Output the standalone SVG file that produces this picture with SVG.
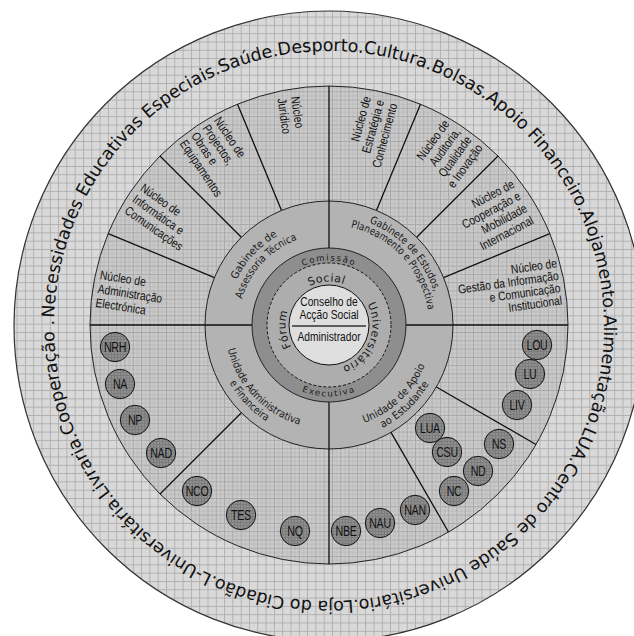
<svg xmlns="http://www.w3.org/2000/svg" width="634" height="636" viewBox="0 0 634 636">
<defs>
<style>
.nt{font-family:'Liberation Sans',Arial,sans-serif;font-size:12.5px;fill:#111}
.ct{font-family:'Liberation Sans',Arial,sans-serif;font-size:14px;fill:#111;text-anchor:middle;letter-spacing:-0.4px}
.gt{font-family:'DejaVu Sans',Verdana,sans-serif;font-size:10.5px;fill:#1a1a1a}
.ot{font-family:'DejaVu Sans',Verdana,sans-serif;font-size:17.5px;fill:#111}
.ft{font-family:'DejaVu Sans',Verdana,sans-serif;font-size:11px;letter-spacing:0.5px;fill:#1a1a1a}
.kt{font-family:'DejaVu Sans',Verdana,sans-serif;font-size:8.5px;letter-spacing:1.6px;fill:#1a1a1a}
.dv{stroke:#111;stroke-width:1.3;fill:none}
.ring{stroke:#222;stroke-width:1}
.nc{fill:url(#gC);stroke:#111;stroke-width:1}
</style>
<pattern id="gO" width="8.3" height="8.3" patternUnits="userSpaceOnUse"><rect width="8.3" height="8.3" fill="#d9d9d9"/><path d="M0 0.5H8.3M0.5 0V8.3" stroke="#adadad" stroke-width="0.9"/></pattern>
<pattern id="gN" width="8.3" height="8.3" patternUnits="userSpaceOnUse"><rect width="8.3" height="8.3" fill="#cacaca"/><path d="M0 4.6H8.3M4.6 0V8.3" stroke="#bababa" stroke-width="0.8"/><path d="M0 0.5H8.3M0.5 0V8.3" stroke="#a6a6a6" stroke-width="0.9"/></pattern>
<pattern id="gC" width="3" height="3" patternUnits="userSpaceOnUse"><rect width="3" height="3" fill="#8f8f8f"/><path d="M0 0.5H3M0.5 0V3" stroke="#7c7c7c" stroke-width="1"/></pattern>
<path id="pOuter" d="M54.12,317.84 A275,275 0 1 1 603.88,334.16 A275,275 0 1 1 54.12,317.84"/>
<path id="pGA1" d="M246.74,386.99 A103,103 0 0 1 385.09,238.61"/>
<path id="pGA2" d="M256.33,379.76 A91,91 0 0 1 378.56,248.68"/>
<path id="pGE1" d="M269.09,232.74 A110,110 0 0 1 416.85,391.2"/>
<path id="pGE2" d="M274.54,241.13 A100,100 0 0 1 408.86,385.18"/>
<path id="pUA1" d="M245.39,263.14 A104,104 0 0 0 386.4,411.73"/>
<path id="pUA2" d="M236.55,256.6 A115,115 0 0 0 392.47,420.9"/>
<path id="pUE1" d="M267.14,408.61 A104,104 0 0 0 415.73,267.6"/>
<path id="pUE2" d="M260,418.25 A116,116 0 0 0 425.73,260.98"/>
<path id="pCom" d="M265.48,313.8 A64.5,64.5 0 0 1 392.52,313.8"/>
<path id="pExe" d="M258.59,337.42 A71.5,71.5 0 0 0 399.41,337.42"/>
<path id="pF1" d="M325.59,368.37 A43.5,43.5 0 0 1 317.38,283.08"/>
<path id="pF2" d="M285.83,319.7 A43.5,43.5 0 0 1 371.39,315.21"/>
<path id="pF3" d="M352.05,288.11 A43.5,43.5 0 0 1 319.96,367.55"/>
</defs>
<rect width="634" height="636" fill="#fff"/>

<g id="outer-ring">
<circle cx="329" cy="326" r="315" fill="url(#gO)" stroke="#333" stroke-width="1.2"/>
<text class="ot"><textPath href="#pOuter" textLength="843" lengthAdjust="spacing">Necessidades Educativas Especiais.Saúde.Desporto.Cultura.Bolsas.Apoio Financeiro.Alojamento.</textPath></text>
<text class="ot"><textPath href="#pOuter" startOffset="844" textLength="881" lengthAdjust="spacing">Alimentação.LUA.Centro de Saúde Universitário.Loja do Cidadão.L-Universitária.Livraria.Cooperação .</textPath></text>
</g>

<g id="nucleos-ring">
<circle cx="329" cy="325" r="239" fill="url(#gN)" class="ring"/>
</g>
<g id="gabinetes-ring">
<circle cx="329" cy="325" r="124" fill="#b3b3b3" class="ring"/>
</g>
<g id="comissao-executiva">
<circle cx="329" cy="325" r="77" fill="#8e8e8e" class="ring"/>
</g>
<g id="forum">
<circle cx="329" cy="325" r="62" fill="#adadad" stroke="#111" stroke-width="1" stroke-dasharray="3 2"/>
</g>

<g id="connectors">
<path class="dv" d="M90,325H252M406,325H568M329,86V248M329,402V564"/>
<path class="dv" d="M214.44,277.55L108.19,233.53M241.32,237.32L160,156M281.55,210.44L237.53,104.19M376.45,210.44L420.47,104.19M416.68,237.32L498,156M443.56,277.55L549.81,233.53M241.32,412.68L160,494M436.38,387L535.97,444.5M391,432.38L448.5,531.97"/>
</g>

<g id="conselho">
<circle cx="329" cy="325" r="40" fill="#dedede" stroke="#111" stroke-width="1"/>
<line x1="292" y1="326" x2="366" y2="326" stroke="#333" stroke-width="1.3"/>
<g transform="translate(329,0) scale(0.82,1)" class="nt" text-anchor="middle">
<text x="0" y="306">Conselho de</text>
<text x="0" y="319.5">Acção Social</text>
<text x="0" y="341.5">Administrador</text>
</g>
</g>

<g id="comissao-text">
<text class="kt" text-anchor="middle"><textPath href="#pCom" startOffset="50%">Comissão</textPath></text>
<text class="kt" text-anchor="middle"><textPath href="#pExe" startOffset="50%">Executiva</textPath></text>
</g>
<g id="forum-text">
<text class="ft" text-anchor="middle"><textPath href="#pF1" startOffset="50%">Fórum</textPath></text>
<text class="ft" text-anchor="middle"><textPath href="#pF2" startOffset="50%">Social</textPath></text>
<text class="ft" text-anchor="middle"><textPath href="#pF3" startOffset="50%">Universitário</textPath></text>
</g>

<g id="gabinete-assessoria">
<text class="gt" text-anchor="middle"><textPath href="#pGA1" startOffset="50%" textLength="61" lengthAdjust="spacingAndGlyphs">Gabinete de</textPath></text>
<text class="gt" text-anchor="middle"><textPath href="#pGA2" startOffset="50%" textLength="84" lengthAdjust="spacingAndGlyphs">Assessoria Técnica</textPath></text>
</g>
<g id="gabinete-estudos">
<text class="gt" text-anchor="middle"><textPath href="#pGE1" startOffset="50%" textLength="98" lengthAdjust="spacingAndGlyphs">Gabinete de Estudos,</textPath></text>
<text class="gt" text-anchor="middle"><textPath href="#pGE2" startOffset="50%" textLength="120" lengthAdjust="spacingAndGlyphs">Planeamento e Prospectiva</textPath></text>
</g>
<g id="unidade-administrativa">
<text class="gt" text-anchor="middle"><textPath href="#pUA1" startOffset="50%" textLength="109" lengthAdjust="spacingAndGlyphs">Unidade Administrativa</textPath></text>
<text class="gt" text-anchor="middle"><textPath href="#pUA2" startOffset="50%" textLength="54" lengthAdjust="spacingAndGlyphs">e Financeira</textPath></text>
</g>
<g id="unidade-apoio">
<text class="gt" text-anchor="middle"><textPath href="#pUE1" startOffset="50%" textLength="86" lengthAdjust="spacingAndGlyphs">Unidade de Apoio</textPath></text>
<text class="gt" text-anchor="middle"><textPath href="#pUE2" startOffset="50%" textLength="65" lengthAdjust="spacingAndGlyphs">ao Estudante</textPath></text>
</g>

<g id="n-admin" transform="translate(99.5,279) rotate(9) scale(0.82,1)"><text class="nt"><tspan x="0" y="0">Núcleo de</tspan><tspan x="0" y="14">Administração</tspan><tspan x="0" y="28">Electrónica</tspan></text></g>
<g id="n-informatica" transform="translate(139.4,190) rotate(35) scale(0.82,1)"><text class="nt"><tspan x="0" y="0">Núcleo de</tspan><tspan x="0" y="13.7">Informática e</tspan><tspan x="0" y="27.4">Comunicações</tspan></text></g>
<g id="n-projectos" transform="translate(213.4,120.5) rotate(56) scale(0.82,1)"><text class="nt"><tspan x="0" y="0">Núcleo de</tspan><tspan x="0" y="13.7">Projectos,</tspan><tspan x="0" y="27.4">Obras e</tspan><tspan x="0" y="41.1">Equipamentos</tspan></text></g>
<g id="n-juridico" transform="translate(291,97) rotate(82) scale(0.82,1)"><text class="nt"><tspan x="0" y="0">Núcleo</tspan><tspan x="0" y="13.7">Jurídico</tspan></text></g>
<g id="n-estrategia" transform="translate(370.9,97.7) rotate(-75) scale(0.82,1)"><text class="nt" text-anchor="end"><tspan x="0" y="0">Núcleo de</tspan><tspan x="0" y="13.7">Estratégia e</tspan><tspan x="0" y="27.4">Conhecimento</tspan></text></g>
<g id="n-auditoria" transform="translate(449.9,124) rotate(-54) scale(0.82,1)"><text class="nt" text-anchor="end"><tspan x="0" y="0">Núcleo de</tspan><tspan x="0" y="13.7">Auditoria,</tspan><tspan x="0" y="27.4">Qualidade</tspan><tspan x="0" y="41.1">e Inovação</tspan></text></g>
<g id="n-cooperacao" transform="translate(515.2,186.8) rotate(-28) scale(0.82,1)"><text class="nt" text-anchor="end"><tspan x="0" y="0">Núcleo de</tspan><tspan x="0" y="13.7">Cooperação e</tspan><tspan x="0" y="27.4">Mobilidade</tspan><tspan x="0" y="41.1">Internacional</tspan></text></g>
<g id="n-gestao" transform="translate(557.3,267.3) rotate(-8) scale(0.82,1)"><text class="nt" text-anchor="end"><tspan x="0" y="0">Núcleo de</tspan><tspan x="0" y="12.5">Gestão da Informação</tspan><tspan x="0" y="25">e Comunicação</tspan><tspan x="0" y="37.5">Institucional</tspan></text></g>

<g id="node-NRH"><circle class="nc" cx="115" cy="347" r="14.7"/><text class="ct" transform="translate(115,352) scale(0.76,1)">NRH</text></g>
<g id="node-NA"><circle class="nc" cx="120" cy="384" r="14.7"/><text class="ct" transform="translate(120,389) scale(0.76,1)">NA</text></g>
<g id="node-NP"><circle class="nc" cx="135" cy="420" r="14.7"/><text class="ct" transform="translate(135,425) scale(0.76,1)">NP</text></g>
<g id="node-NAD"><circle class="nc" cx="161" cy="453" r="14.7"/><text class="ct" transform="translate(161,458) scale(0.76,1)">NAD</text></g>
<g id="node-NCO"><circle class="nc" cx="197" cy="491" r="14.7"/><text class="ct" transform="translate(197,496) scale(0.76,1)">NCO</text></g>
<g id="node-TES"><circle class="nc" cx="241" cy="515" r="14.7"/><text class="ct" transform="translate(241,520) scale(0.76,1)">TES</text></g>
<g id="node-NQ"><circle class="nc" cx="295" cy="531" r="14.7"/><text class="ct" transform="translate(295,536) scale(0.76,1)">NQ</text></g>
<g id="node-NBE"><circle class="nc" cx="346" cy="531" r="14.7"/><text class="ct" transform="translate(346,536) scale(0.76,1)">NBE</text></g>
<g id="node-NAU"><circle class="nc" cx="380" cy="523" r="14.7"/><text class="ct" transform="translate(380,528) scale(0.76,1)">NAU</text></g>
<g id="node-NAN"><circle class="nc" cx="415" cy="510" r="14.7"/><text class="ct" transform="translate(415,515) scale(0.76,1)">NAN</text></g>
<g id="node-LUA"><circle class="nc" cx="430" cy="428" r="14.7"/><text class="ct" transform="translate(430,433) scale(0.76,1)">LUA</text></g>
<g id="node-CSU"><circle class="nc" cx="447" cy="452" r="14.7"/><text class="ct" transform="translate(447,457) scale(0.76,1)">CSU</text></g>
<g id="node-ND"><circle class="nc" cx="478" cy="471" r="14.7"/><text class="ct" transform="translate(478,476) scale(0.76,1)">ND</text></g>
<g id="node-NC"><circle class="nc" cx="454" cy="491" r="14.7"/><text class="ct" transform="translate(454,496) scale(0.76,1)">NC</text></g>
<g id="node-NS"><circle class="nc" cx="499" cy="444" r="14.7"/><text class="ct" transform="translate(499,449) scale(0.76,1)">NS</text></g>
<g id="node-LOU"><circle class="nc" cx="537" cy="345" r="14.7"/><text class="ct" transform="translate(537,350) scale(0.76,1)">LOU</text></g>
<g id="node-LU"><circle class="nc" cx="530" cy="374" r="14.7"/><text class="ct" transform="translate(530,379) scale(0.76,1)">LU</text></g>
<g id="node-LIV"><circle class="nc" cx="517" cy="405" r="14.7"/><text class="ct" transform="translate(517,410) scale(0.76,1)">LIV</text></g>
</svg>
